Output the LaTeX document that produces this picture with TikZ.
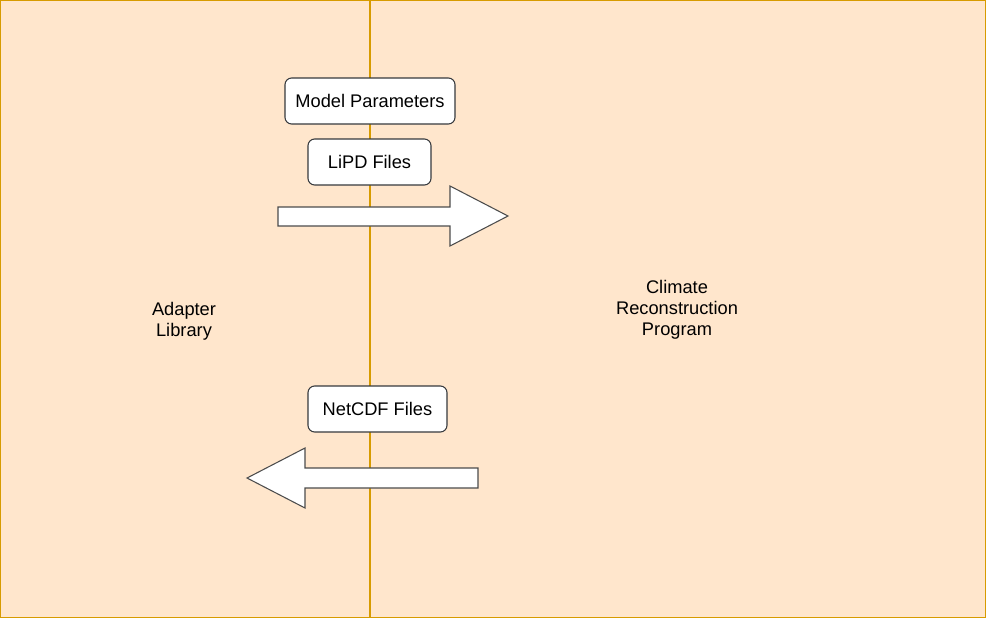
\documentclass[tikz,border=0pt]{standalone}
\usepackage{fontspec}
\setmainfont{Liberation Sans}
\definecolor{panelfill}{HTML}{FFE6CC}
\definecolor{paneldraw}{HTML}{D79B00}
\definecolor{boxdraw}{HTML}{36393D}
\begin{document}
\begin{tikzpicture}[
        x=0.75pt, y=-0.75pt,
        font=\fontsize{13.7}{15.75}\selectfont,
        panel/.style={rectangle, fill=panelfill, draw=paneldraw, line width=1.2pt, minimum height=463.5pt, inner sep=0pt},
        paneltext/.style={align=center, inner sep=0pt},
        filebox/.style={rectangle, rounded corners=5pt, fill=white, draw=boxdraw, line width=0.8pt, minimum height=34.5pt, inner sep=0pt},
        bigarrow/.style={fill=white, draw=black!70, line width=0.8pt},
      ]
      \useasboundingbox (0,0) rectangle (986,618);
      %Nodes
      \node[panel, minimum width=277.5pt] (adapter) at (185,309) {};
      \node[panel, minimum width=462pt]   (climate) at (678,309) {};

      \node[paneltext] (adapterlabel) at (184,321) {Adapter\\Library};
      \node[paneltext] (climatelabel) at (677,310) {Climate\\Reconstruction\\Program};

      \node[filebox, minimum width=127.5pt] (params) at (370,101)   {Model Parameters};
      \node[filebox, minimum width=92.25pt] (lipd)   at (369.5,162) {LiPD Files};
      \node[filebox, minimum width=104.25pt] (netcdf) at (377.5,409) {NetCDF Files};

      %Arrows
      \draw[bigarrow] (278,207) -- (450,207) -- (450,186) -- (508,216) -- (450,246) -- (450,226) -- (278,226) -- cycle;
      \draw[bigarrow] (478,468) -- (305,468) -- (305,448) -- (247,478) -- (305,508) -- (305,488) -- (478,488) -- cycle;
    \end{tikzpicture}
\end{document}
